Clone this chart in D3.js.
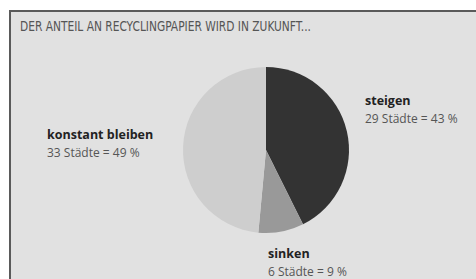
<!DOCTYPE html>
<style>
body { margin: 0; background: #fff; }
svg { display: block; }
</style>
<svg width="476" height="279"></svg>
<script src="https://d3js.org/d3.v7.min.js"></script>
<script>

var labels = ["steigen", "sinken", "konstant bleiben"];
var staedte = [29, 6, 33];
var prozent = [43, 9, 49];
var title = "DER ANTEIL AN RECYCLINGPAPIER WIRD IN ZUKUNFT...";

var svg = d3.select("svg"),
    width = +svg.attr("width"),
    height = +svg.attr("height");

// panel, frame runs off the right and bottom edge
svg.append("rect")
    .attr("x", 10)
    .attr("y", 11)
    .attr("width", width)
    .attr("height", height)
    .attr("fill", "#e1e1e1")
    .attr("stroke", "#5a5a5a")
    .attr("stroke-width", 2);

svg.append("text")
    .attr("x", 20)
    .attr("y", 31)
    .attr("font-family", "DejaVu Sans Condensed")
    .attr("font-stretch", "condensed")
    .attr("font-size", 13.5)
    .attr("fill", "#555")
    .attr("textLength", 291)
    .attr("lengthAdjust", "spacingAndGlyphs")
    .text(title);

var data = labels.map(function(d, i) {
  return {label: d, n: staedte[i], p: prozent[i]};
});

var color = d3.scaleOrdinal()
    .domain(labels)
    .range(["#333333", "#999999", "#cecece"]);

var pie = d3.pie()
    .sort(null)
    .value(function(d) { return d.n; });

var r = 83;
var arc = d3.arc().innerRadius(0).outerRadius(r);

var g = svg.append("g").attr("transform", "translate(266,150)");

g.selectAll("path")
    .data(pie(data))
    .enter().append("path")
      .attr("d", arc)
      .attr("fill", function(d) { return color(d.data.label); });

// label positions next to the pie
var pos = {
  "steigen": [365, 105],
  "sinken": [268, 258],
  "konstant bleiben": [47, 139]
};

var lab = svg.append("g")
    .attr("font-family", "Open Sans")
    .selectAll("g")
    .data(data)
    .enter().append("g")
      .attr("transform", function(d) { return "translate(" + pos[d.label] + ")"; });

lab.append("text")
    .attr("font-size", 12.5)
    .attr("font-weight", "bold")
    .attr("fill", "#222")
    .text(function(d) { return d.label; });

lab.append("text")
    .attr("y", 18)
    .attr("font-size", 12)
    .attr("fill", "#555")
    .text(function(d) { return d.n + " Städte = " + d.p + " %"; });

</script>
